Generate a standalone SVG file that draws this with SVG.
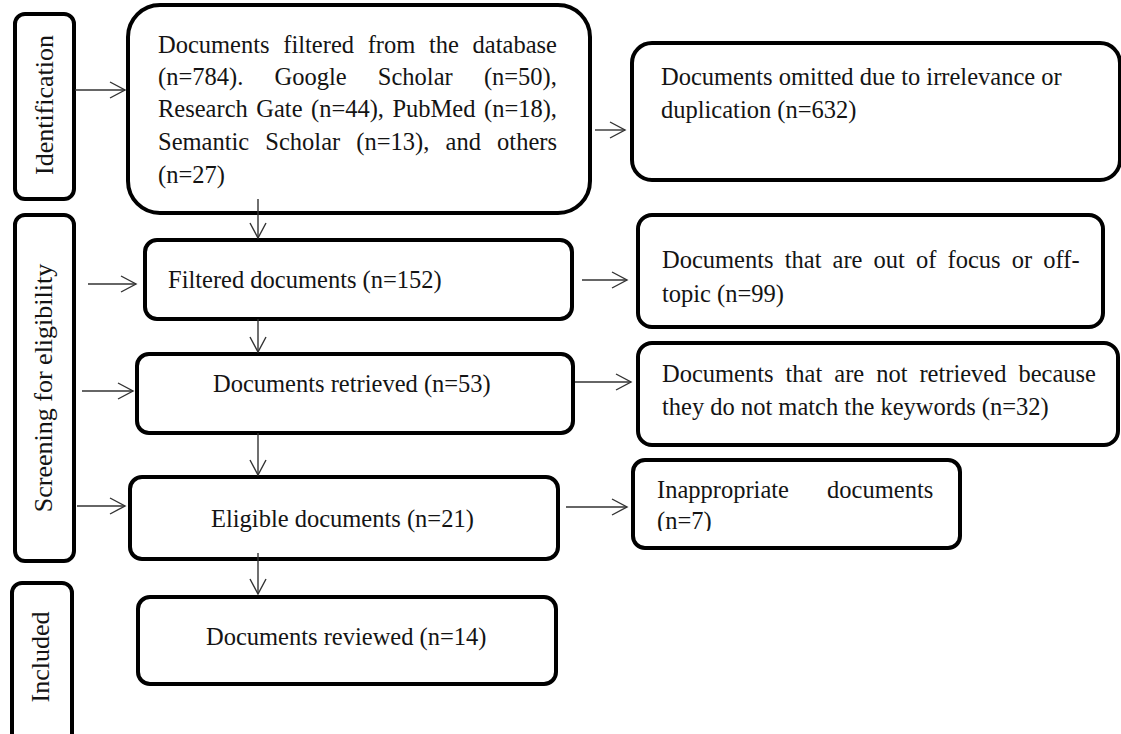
<svg xmlns="http://www.w3.org/2000/svg" width="1121" height="734" viewBox="0 0 1121 734">
<defs>
<style>
.box{fill:#fff;stroke:#000;stroke-width:4}
.t{font-family:"Liberation Serif","Times New Roman",serif;font-size:24.5px;fill:#141414}
.side{font-family:"Liberation Serif","Times New Roman",serif;font-size:26px;fill:#141414}
.c{stroke:#333;stroke-width:1.4;fill:none}
</style>
<marker id="ah" markerWidth="20" markerHeight="20" refX="16" refY="9" orient="auto" markerUnits="userSpaceOnUse">
<path d="M1,1 L16,9 L1,17" fill="none" stroke="#333" stroke-width="1.4"/>
</marker>
<clipPath id="clipInapp"><rect x="633" y="460" width="330" height="71"/></clipPath>
</defs>
<rect width="1121" height="734" fill="#fff"/>

<g id="identification">
<rect class="box" x="15" y="14" width="59" height="185" rx="10"/>
<text class="side" transform="translate(53,105) rotate(-90)" text-anchor="middle">Identification</text>
</g>
<g id="screening">
<rect class="box" x="15" y="215" width="59" height="346" rx="10"/>
<text class="side" transform="translate(52,388) rotate(-90)" text-anchor="middle">Screening for eligibility</text>
</g>
<g id="included">
<rect class="box" x="12" y="583" width="60" height="165" rx="10"/>
<text class="side" transform="translate(49,657) rotate(-90)" text-anchor="middle">Included</text>
</g>

<g id="database">
<rect class="box" x="128" y="5" width="462" height="208" rx="32"/>
<text class="t" x="158" y="53" word-spacing="7.55">Documents filtered from the database</text>
<text class="t" x="158" y="85" word-spacing="25.1">(n=784). Google Scholar (n=50),</text>
<text class="t" x="158" y="117" word-spacing="2.35">Research Gate (n=44), PubMed (n=18),</text>
<text class="t" x="158" y="150" word-spacing="10.05">Semantic Scholar (n=13), and others</text>
<text class="t" x="158" y="183">(n=27)</text>
</g>
<g id="omitted">
<rect class="box" x="632" y="43" width="488" height="137" rx="20"/>
<text class="t" x="661" y="85">Documents omitted due to irrelevance or</text>
<text class="t" x="661" y="118">duplication (n=632)</text>
</g>
<g id="filtered">
<rect class="box" x="145" y="240" width="427" height="79" rx="12"/>
<text class="t" x="168" y="288">Filtered documents (n=152)</text>
</g>
<g id="offtopic">
<rect class="box" x="638" y="215" width="465" height="112" rx="14"/>
<text class="t" x="662" y="268" word-spacing="5">Documents that are out of focus or off-</text>
<text class="t" x="662" y="302">topic (n=99)</text>
</g>
<g id="retrieved">
<rect class="box" x="137" y="354" width="436" height="79" rx="12"/>
<text class="t" x="213" y="392">Documents retrieved (n=53)</text>
</g>
<g id="notretrieved">
<rect class="box" x="638" y="343" width="480" height="102" rx="14"/>
<text class="t" x="662" y="382" word-spacing="5.84">Documents that are not retrieved because</text>
<text class="t" x="662" y="415">they do not match the keywords (n=32)</text>
</g>
<g id="eligible">
<rect class="box" x="130" y="477" width="428" height="82" rx="12"/>
<text class="t" x="211" y="527">Eligible documents (n=21)</text>
</g>
<g id="inappropriate">
<rect class="box" x="633" y="460" width="327" height="88" rx="12"/>
<g clip-path="url(#clipInapp)">
<text class="t" x="657" y="498" word-spacing="32">Inappropriate documents</text>
<text class="t" x="657" y="529">(n=7)</text>
</g>
</g>
<g id="reviewed">
<rect class="box" x="138" y="597" width="418" height="87" rx="12"/>
<text class="t" x="206" y="645">Documents reviewed (n=14)</text>
</g>

<g id="connectors">
<line class="c" x1="75" y1="90" x2="125" y2="90" marker-end="url(#ah)"/>
<line class="c" x1="595" y1="130" x2="625" y2="130" marker-end="url(#ah)"/>
<line class="c" x1="258" y1="199" x2="258" y2="238" marker-end="url(#ah)"/>
<line class="c" x1="88" y1="284" x2="136" y2="284" marker-end="url(#ah)"/>
<line class="c" x1="582" y1="280" x2="627" y2="280" marker-end="url(#ah)"/>
<line class="c" x1="258" y1="319" x2="258" y2="352" marker-end="url(#ah)"/>
<line class="c" x1="82" y1="391" x2="133" y2="391" marker-end="url(#ah)"/>
<line class="c" x1="575" y1="382" x2="631" y2="382" marker-end="url(#ah)"/>
<line class="c" x1="258" y1="433" x2="258" y2="475" marker-end="url(#ah)"/>
<line class="c" x1="77" y1="506" x2="125" y2="506" marker-end="url(#ah)"/>
<line class="c" x1="566" y1="507" x2="627" y2="507" marker-end="url(#ah)"/>
<line class="c" x1="258" y1="553" x2="258" y2="594" marker-end="url(#ah)"/>
</g>
</svg>
